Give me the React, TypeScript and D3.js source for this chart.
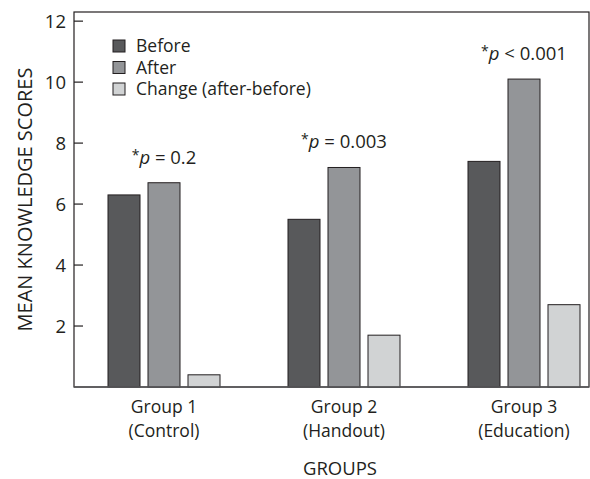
import React, { useRef, useEffect } from "react";
import * as d3 from "d3";

const groups = ["Group 1", "Group 2", "Group 3"];
const groupSubs = ["(Control)", "(Handout)", "(Education)"];
const series = ["Before", "After", "Change (after-before)"];
const before = [6.3, 5.5, 7.4];
const after = [6.7, 7.2, 10.1];
const change = [0.4, 1.7, 2.7];
const pOps = ["=", "=", "<"];
const pValues = ["0.2", "0.003", "0.001"];
const yTicks = [2, 4, 6, 8, 10, 12];
const colors = ["#58595b", "#939598", "#d1d3d4"];

const W = 590;
const H = 479;
const FONT = "'Open Sans', sans-serif";

function App() {
  const svgRef = useRef<SVGSVGElement>(null);

  useEffect(() => {
    const svg = d3.select(svgRef.current);
    svg.selectAll("*").remove();

    const left = 74, right = 589, top = 12, bottom = 387;

    const y = d3.scaleLinear().domain([0, 12.3]).range([bottom, top]);
    const x0 = d3.scaleBand().domain(groups).range([left, left + 540]);
    const x1 = d3
      .scaleBand()
      .domain(series)
      .range([30, 150])
      .paddingInner(0.2)
      .paddingOuter(0.1);

    const rows = groups.map((g, i) => ({ g, vals: [before[i], after[i], change[i]] }));

    // frame
    svg
      .append("rect")
      .attr("x", left)
      .attr("y", top)
      .attr("width", right - left)
      .attr("height", bottom - top)
      .attr("fill", "none")
      .attr("stroke", "#231f20")
      .attr("stroke-width", 1.2);

    // bars
    const gs = svg
      .selectAll(".grp")
      .data(rows)
      .join("g")
      .attr("class", "grp")
      .attr("transform", (d) => `translate(${x0(d.g)},0)`);

    gs.selectAll("rect")
      .data((d) => d.vals.map((v, j) => ({ s: series[j], v, j })))
      .join("rect")
      .attr("x", (d) => x1(d.s)!)
      .attr("width", x1.bandwidth())
      .attr("y", (d) => y(d.v))
      .attr("height", (d) => bottom - y(d.v))
      .attr("fill", (d) => colors[d.j])
      .attr("stroke", "#231f20")
      .attr("stroke-width", 1);

    // y axis
    const yAxis = svg.append("g");
    yTicks.forEach((t) => {
      yAxis
        .append("line")
        .attr("x1", left)
        .attr("x2", left + 9)
        .attr("y1", y(t))
        .attr("y2", y(t))
        .attr("stroke", "#231f20")
        .attr("stroke-width", 1.2);
      yAxis
        .append("text")
        .attr("x", left - 8)
        .attr("y", y(t))
        .attr("dy", "0.36em")
        .attr("text-anchor", "end")
        .attr("font-size", 18.5)
        .attr("font-family", FONT)
        .attr("fill", "#231f20")
        .text(t);
    });

    // bottom axis line
    svg
      .append("line")
      .attr("x1", left)
      .attr("x2", right)
      .attr("y1", bottom)
      .attr("y2", bottom)
      .attr("stroke", "#58595b")
      .attr("stroke-width", 1.5);

    // x labels
    groups.forEach((g, i) => {
      const cx = x0(g)! + x0.bandwidth() / 2;
      const t = svg
        .append("text")
        .attr("text-anchor", "middle")
        .attr("font-size", 17.5)
        .attr("font-family", FONT)
        .attr("fill", "#231f20");
      t.append("tspan").attr("x", cx).attr("y", 413).text(g);
      t.append("tspan").attr("x", cx).attr("y", 437).text(groupSubs[i]);
    });

    svg
      .append("text")
      .attr("x", 340)
      .attr("y", 475)
      .attr("text-anchor", "middle")
      .attr("font-size", 18.5)
      .attr("font-family", FONT)
      .attr("fill", "#231f20")
      .text("GROUPS");

    svg
      .append("text")
      .attr("transform", `translate(32,${(top + bottom) / 2}) rotate(-90)`)
      .attr("text-anchor", "middle")
      .attr("font-size", 20)
      .attr("font-family", FONT)
      .attr("fill", "#231f20")
      .text("MEAN KNOWLEDGE SCORES");

    // p annotations
    groups.forEach((g, i) => {
      const cx = x0(g)! + x0.bandwidth() / 2;
      const t = svg
        .append("text")
        .attr("x", cx)
        .attr("y", y(after[i]) - 19)
        .attr("text-anchor", "middle")
        .attr("font-size", 18.5)
        .attr("font-family", FONT)
        .attr("fill", "#231f20");
      t.append("tspan").attr("font-size", 14).attr("dy", -4).text("*");
      t.append("tspan").attr("font-style", "italic").attr("dy", 4).text("p");
      t.append("tspan").text(` ${pOps[i]} ${pValues[i]}`);
    });

    // legend
    const lg = svg.append("g").attr("transform", "translate(113,40)");
    series.forEach((s, i) => {
      lg.append("rect")
        .attr("x", 0)
        .attr("y", i * 21.5)
        .attr("width", 12)
        .attr("height", 12)
        .attr("fill", colors[i])
        .attr("stroke", "#231f20")
        .attr("stroke-width", 1);
      lg.append("text")
        .attr("x", 23)
        .attr("y", i * 21.5 + 6)
        .attr("dy", "0.36em")
        .attr("font-size", 17.5)
        .attr("font-family", FONT)
        .attr("fill", "#231f20")
        .text(s);
    });
  }, []);

  return (
    <svg
      ref={svgRef}
      width={W}
      height={H}
      style={{ position: "absolute", left: 0, top: 0, background: "#fff" }}
    />
  );
}

export default App;
